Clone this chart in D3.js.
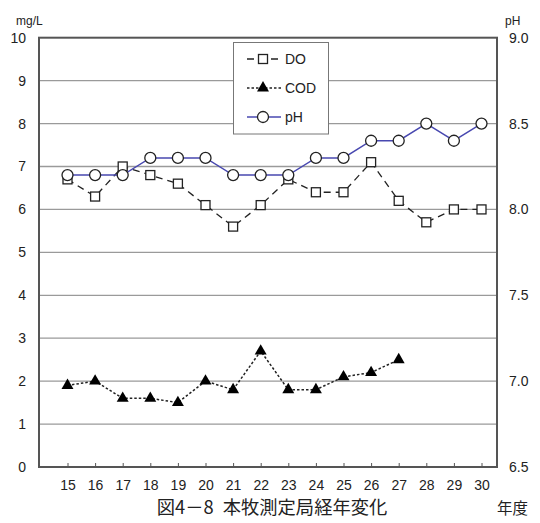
<!DOCTYPE html>
<html><head><meta charset="utf-8">
<script src="https://cdn.jsdelivr.net/npm/d3@7"></script>
<style>
html,body{margin:0;padding:0;background:#fff;}
svg{display:block;}
text{font-family:"Liberation Sans",Arial,sans-serif;fill:#222;}
.jp{font-family:"Noto Sans CJK JP",sans-serif;}
</style>
</head><body>
<svg id="c" width="540" height="523"></svg>
<script>
const years = ["15","16","17","18","19","20","21","22","23","24","25","26","27","28","29","30"];
const doValues = [6.7,6.3,7.0,6.8,6.6,6.1,5.6,6.1,6.7,6.4,6.4,7.1,6.2,5.7,6.0,6.0];
const codValues = [1.9,2.0,1.6,1.6,1.5,2.0,1.8,2.7,1.8,1.8,2.1,2.2,2.5];
const phValues = [8.2,8.2,8.2,8.3,8.3,8.3,8.2,8.2,8.2,8.3,8.3,8.4,8.4,8.5,8.4,8.5];
const leftTicks = [0,1,2,3,4,5,6,7,8,9,10];
const rightTicks = ["6.5","7.0","7.5","8.0","8.5","9.0"];
const seriesNames = ["DO","COD","pH"];
const title = "図4－8\u2002本牧測定局経年変化";

const svg = d3.select("#c");
const L = 39, R = 497, T = 37.7, B = 467;
const x = d3.scalePoint().domain(years).range([67.5, 481.5]);
const y = d3.scaleLinear().domain([0,10]).range([B, T]);
const y2 = d3.scaleLinear().domain([6.5,9.0]).range([B, T]);

// gridlines
svg.append("g").selectAll("line").data(leftTicks.slice(1,-1)).join("line")
  .attr("x1", L).attr("x2", R).attr("y1", d=>y(d)).attr("y2", d=>y(d))
  .attr("stroke", "#9a9a9a").attr("stroke-width", 1.3);

// left axis labels
const gl = svg.append("g").attr("transform", `translate(${L},0)`)
  .call(d3.axisLeft(y).tickValues(leftTicks).tickSize(0).tickPadding(13).tickFormat(d3.format("d")));
gl.select(".domain").remove();
gl.selectAll("text").attr("font-size", 14).attr("fill", "#222").attr("font-family", "Liberation Sans, Arial, sans-serif");

// right axis labels
const gr = svg.append("g").attr("transform", `translate(${R},0)`)
  .call(d3.axisRight(y2).tickValues(rightTicks.map(Number)).tickSize(0).tickPadding(12).tickFormat(d3.format(".1f")));
gr.select(".domain").remove();
gr.selectAll("text").attr("font-size", 14).attr("fill", "#222").attr("font-family", "Liberation Sans, Arial, sans-serif");

// bottom axis
const gb = svg.append("g").attr("transform", `translate(0,${B})`)
  .call(d3.axisBottom(x).tickSize(-4).tickPadding(13));
gb.select(".domain").remove();
gb.selectAll(".tick line").attr("stroke", "#555").attr("stroke-width", 1);
gb.selectAll("text").attr("font-size", 14).attr("fill", "#222").attr("font-family", "Liberation Sans, Arial, sans-serif");

// frame
svg.append("rect").attr("x", L).attr("y", T).attr("width", R-L).attr("height", B-T)
  .attr("fill", "none").attr("stroke", "#555").attr("stroke-width", 2);

// unit labels
svg.append("text").attr("x", 16).attr("y", 25).attr("font-size", 12).text("mg/L");
svg.append("text").attr("x", 505).attr("y", 25).attr("font-size", 12).text("pH");
svg.append("text").attr("class","jp").attr("x", 497).attr("y", 514).attr("font-size", 15.5).text("年度");
svg.append("text").attr("class","jp").attr("x", 272).attr("y", 514).attr("text-anchor","middle").attr("font-size", 18.3).text(title);

// DO
const lineL = d3.line().x((d,i)=>x(years[i])).y(d=>y(d));
svg.append("path").datum(doValues).attr("d", lineL).attr("fill","none")
  .attr("stroke","#222").attr("stroke-width",1.3).attr("stroke-dasharray","7,5");
svg.append("g").selectAll("rect").data(doValues).join("rect")
  .attr("x",(d,i)=>x(years[i])-4.5).attr("y",d=>y(d)-4.5).attr("width",9).attr("height",9)
  .attr("fill","#fff").attr("stroke","#222").attr("stroke-width",1.3);

// COD
svg.append("path").datum(codValues).attr("d", lineL).attr("fill","none")
  .attr("stroke","#222").attr("stroke-width",1.5).attr("stroke-dasharray","2.5,2");
const tri = d3.symbol().type(d3.symbolTriangle).size(62);
svg.append("g").selectAll("path").data(codValues).join("path")
  .attr("transform",(d,i)=>`translate(${x(years[i])},${y(d)})`).attr("d", tri()).attr("fill","#000");

// pH
const lineR = d3.line().x((d,i)=>x(years[i])).y(d=>y2(d));
svg.append("path").datum(phValues).attr("d", lineR).attr("fill","none")
  .attr("stroke","#4848b0").attr("stroke-width",1.5);
svg.append("g").selectAll("circle").data(phValues).join("circle")
  .attr("cx",(d,i)=>x(years[i])).attr("cy",d=>y2(d)).attr("r",5.5)
  .attr("fill","#fff").attr("stroke","#222").attr("stroke-width",1.3);

// legend
const lg = svg.append("g");
lg.append("rect").attr("x",233.5).attr("y",42.5).attr("width",95).attr("height",91.5)
  .attr("fill","#fff").attr("stroke","#777").attr("stroke-width",1);
const ly = [59, 88, 117];
lg.append("line").attr("x1",247).attr("x2",279).attr("y1",ly[0]).attr("y2",ly[0])
  .attr("stroke","#222").attr("stroke-width",1.3).attr("stroke-dasharray","7,5");
lg.append("rect").attr("x",263-4.5).attr("y",ly[0]-4.5).attr("width",9).attr("height",9)
  .attr("fill","#fff").attr("stroke","#222").attr("stroke-width",1.3);
lg.append("line").attr("x1",247).attr("x2",283).attr("y1",ly[1]).attr("y2",ly[1])
  .attr("stroke","#222").attr("stroke-width",1.5).attr("stroke-dasharray","2.5,2");
lg.append("path").attr("transform",`translate(263,${ly[1]})`).attr("d",tri()).attr("fill","#000");
lg.append("line").attr("x1",247).attr("x2",281).attr("y1",ly[2]).attr("y2",ly[2])
  .attr("stroke","#4848b0").attr("stroke-width",1.5);
lg.append("circle").attr("cx",263).attr("cy",ly[2]).attr("r",5.5)
  .attr("fill","#fff").attr("stroke","#222").attr("stroke-width",1.3);
lg.selectAll("text.lab").data(seriesNames).join("text").attr("class","lab")
  .attr("x",285).attr("y",(d,i)=>ly[i]+5).attr("font-size",14).text(d=>d);
</script>
</body></html>
